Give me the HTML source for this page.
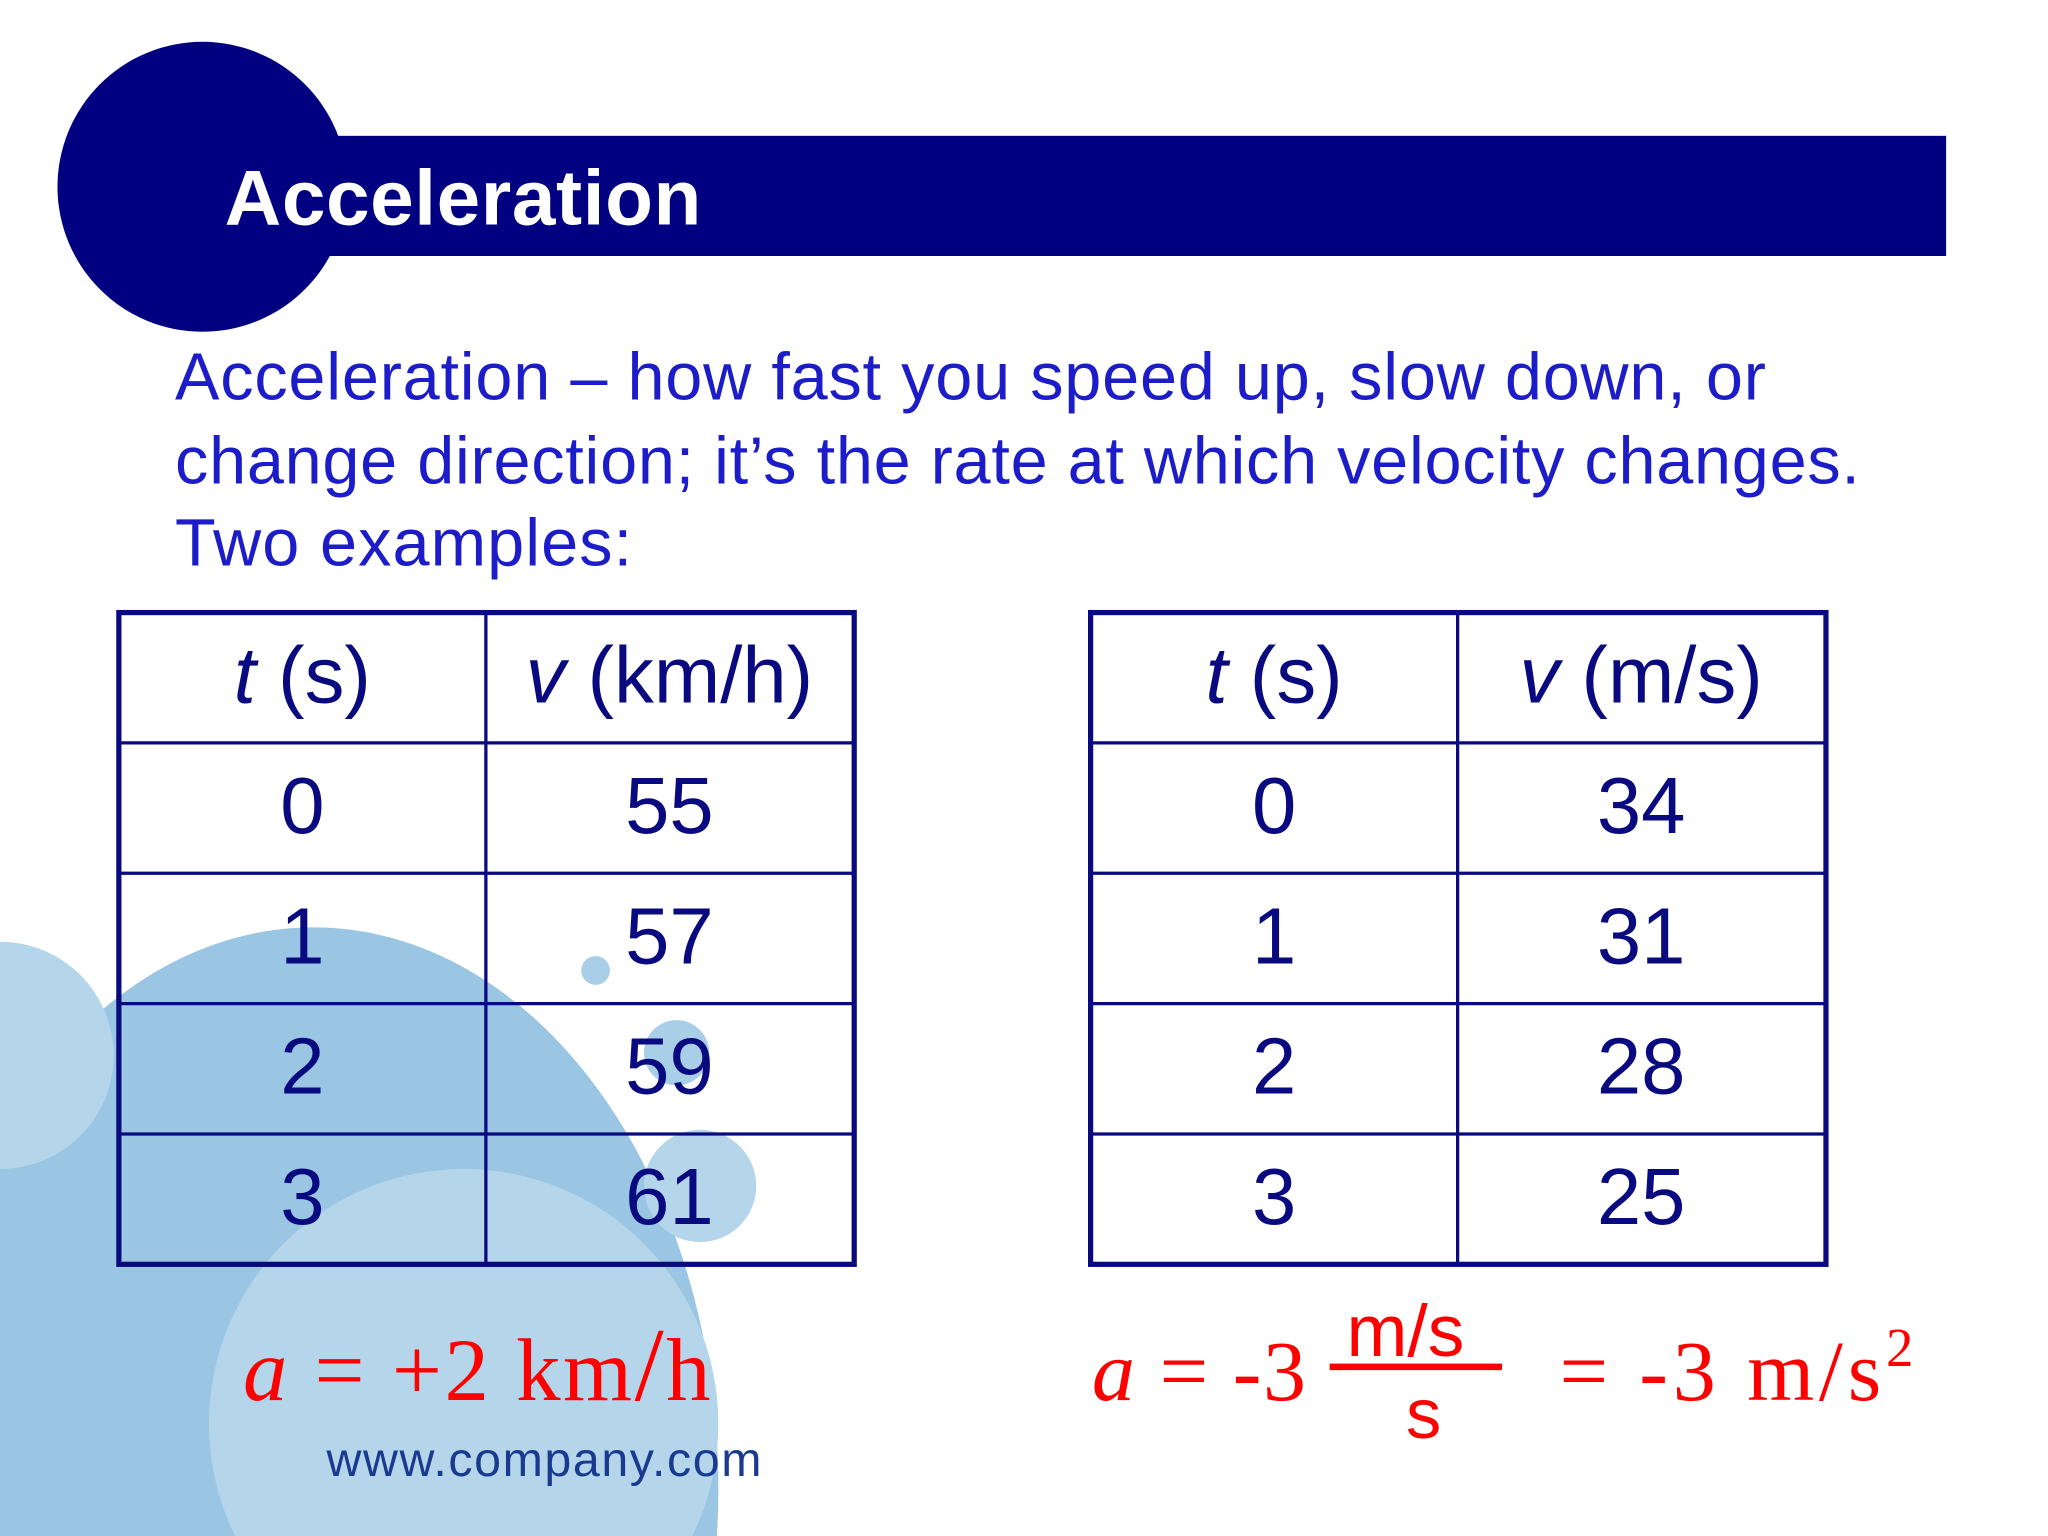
<!DOCTYPE html>
<html><head><meta charset="utf-8"><style>
html,body{margin:0;padding:0;background:#fff;overflow:hidden;width:2048px;height:1536px;}
svg{display:block;overflow:hidden;}
</style></head><body>
<svg id="slide" width="2048" height="1536" viewBox="0 0 1568 1176" xmlns="http://www.w3.org/2000/svg">
<g>
<ellipse cx="240" cy="1140" rx="310" ry="430" fill="#9ac5e3"/>
<circle cx="0" cy="808" r="87" fill="#b5d6ea"/>
<circle cx="355" cy="1090" r="195" fill="#b5d6ea"/>
<circle cx="456" cy="743" r="11" fill="#a9cfe8"/>
<circle cx="518" cy="806" r="25" fill="#a9cfe8"/>
<circle cx="536" cy="908" r="43" fill="#b5d6ea"/>
</g>
<rect x="240" y="104" width="1250" height="92" fill="#000080"/>
<circle cx="155" cy="143" r="111" fill="#000080"/>
<text x="172" y="172" font-family="Liberation Sans, sans-serif" font-weight="bold" font-size="60" fill="#fff" textLength="365">Acceleration</text>
<g font-family="Liberation Sans, sans-serif" font-size="51" fill="#1c1cc8">
<text x="134" y="306" textLength="1218">Acceleration – how fast you speed up, slow down, or</text>
<text x="134" y="370" textLength="1290">change direction; it’s the rate at which velocity changes.</text>
<text x="134" y="433" textLength="350">Two examples:</text>
</g>
<g id="tables"></g>
<text x="186" y="1072" font-family="Liberation Serif, serif" font-size="68" fill="#f00" textLength="358"><tspan font-style="italic">a</tspan> = +2 km<tspan font-size="80">/</tspan>h</text>
<text x="250" y="1130" font-family="Liberation Sans, sans-serif" font-size="37" fill="#1a3a90" textLength="333">www.company.com</text>
<g fill="#f00">
<text x="836" y="1072" font-family="Liberation Serif, serif" font-size="66" textLength="164"><tspan font-style="italic">a</tspan> = -3</text>
<text x="1076" y="1038" text-anchor="middle" font-family="Liberation Sans, sans-serif" font-size="56">m/s</text>
<rect x="1018" y="1044" width="132" height="5"/>
<text x="1090" y="1101" text-anchor="middle" font-family="Liberation Sans, sans-serif" font-size="54">s</text>
<text x="1194" y="1072" font-family="Liberation Serif, serif" font-size="66" textLength="271">= -3 m/s<tspan font-size="42" dy="-26">2</tspan></text>
</g>
</svg>
<script>
const tLeftHeader = ["t", "(s)"];
const vLeftHeader = ["v", "(km/h)"];
const tLeft = ["0","1","2","3"];
const vLeft = ["55","57","59","61"];
const tRightHeader = ["t", "(s)"];
const vRightHeader = ["v", "(m/s)"];
const tRight = ["0","1","2","3"];
const vRight = ["34","31","28","25"];

const NS = "http://www.w3.org/2000/svg";
const g = document.getElementById('tables');
function mk(tag, attrs, parent){const e=document.createElementNS(NS,tag);for(const k in attrs)e.setAttribute(k,attrs[k]);parent.appendChild(e);return e;}
function table(x0, name, th, vh, tv, vv){
  const tg = mk('g',{},g);
  
  
  const w=563, rowH=99.8, colW=281, y0=469, n=tv.length+1;
  for(let i=1;i<n;i++){
    const ln = mk('line',{x1:x0,x2:x0+w,y1:y0+i*rowH,y2:y0+i*rowH,stroke:'#0a0a80','stroke-width':2.5},tg);
    
    
  }
  const c = mk('line',{x1:x0+colW,x2:x0+colW,y1:y0,y2:y0+n*rowH,stroke:'#0a0a80','stroke-width':2.5},tg);
  
  
  const b = mk('rect',{x:x0,y:y0,width:w,height:n*rowH,fill:'none',stroke:'#0a0a80','stroke-width':4},tg);
  
  
  const st={'font-family':'Liberation Sans, sans-serif','font-size':61,fill:'#0a0a80','text-anchor':'middle'};
  [[th,0],[vh,1]].forEach(([h,ci])=>{
    const t = mk('text',Object.assign({x:x0+colW*ci+colW/2,y:y0+rowH/2+19},st),tg);
    
    
    const s1=mk('tspan',{'font-style':'italic'},t); s1.textContent=h[0];
    const s2=mk('tspan',{},t); s2.textContent=' '+h[1];
  });
  for(let r=0;r<tv.length;r++){
    [tv[r],vv[r]].forEach((val,ci)=>{
      const t = mk('text',Object.assign({x:x0+colW*ci+colW/2,y:y0+(r+1)*rowH+rowH/2+19},st),tg);
      
      
      t.textContent=val;
    });
  }
}
table(91,'table-km-h',tLeftHeader,vLeftHeader,tLeft,vLeft);
table(835,'table-m-s',tRightHeader,vRightHeader,tRight,vRight);
</script>
</body></html>
